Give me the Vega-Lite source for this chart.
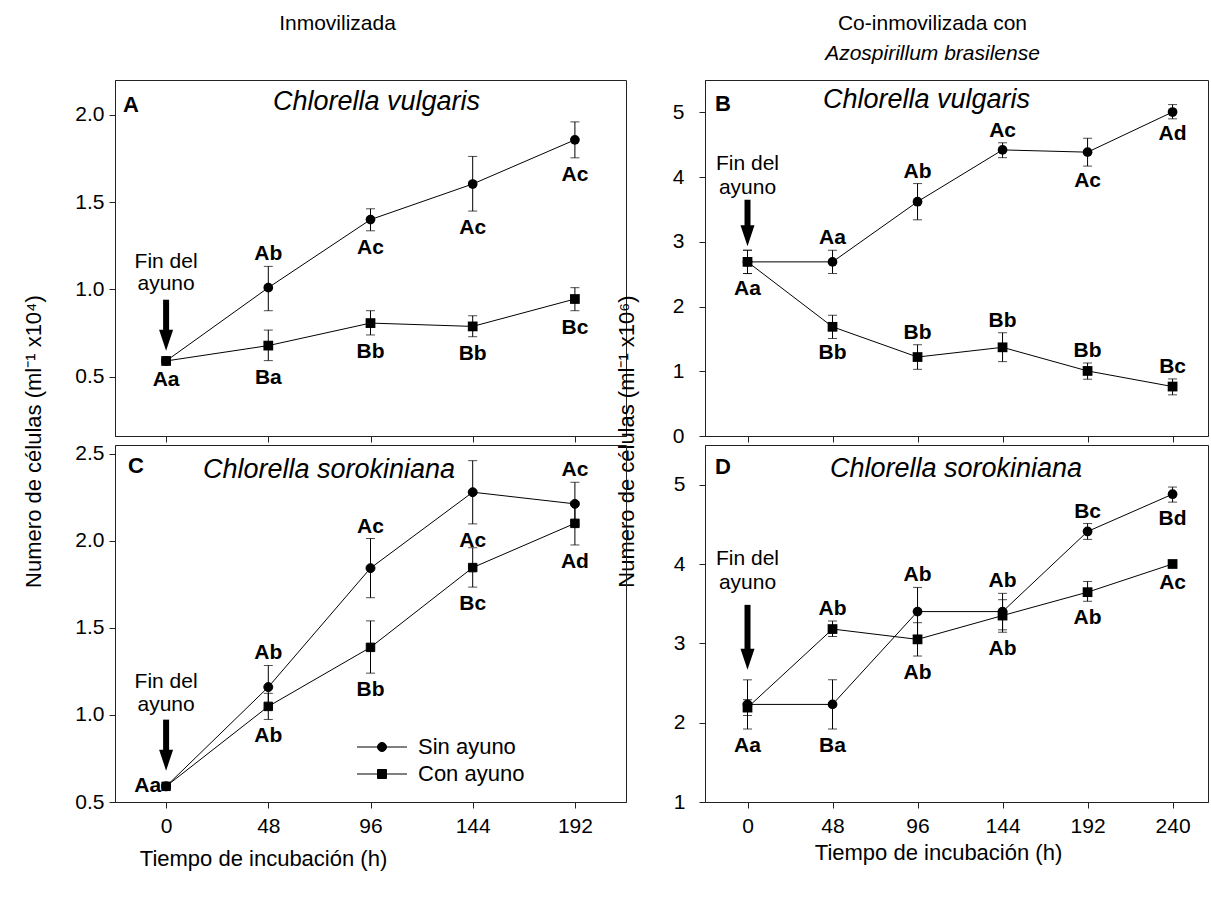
{
  "$schema": "https://vega.github.io/schema/vega-lite/v6.json",
  "background": "white",
  "padding": {"left": 21, "top": 12, "right": 0, "bottom": 5},
  "config": {
    "font": "Liberation Sans",
    "view": {"stroke": "#222", "strokeWidth": 1},
    "axis": {
      "grid": false, "domainColor": "#222", "tickColor": "#222",
      "labelColor": "black", "titleColor": "black",
      "labelFont": "Liberation Sans", "titleFont": "Liberation Sans",
      "labelFontSize": 21, "titleFontSize": 22, "titleFontWeight": "normal",
      "tickSize": 6, "labelPadding": 5, "labelFlush": false, "labelOverlap": false
    },
    "title": {"font": "Liberation Sans", "color": "black", "fontWeight": "normal", "subtitleFont": "Liberation Sans", "subtitleColor": "black"}
  },
  "datasets": {
    "obs": [
      {"panel": "A", "serie": "Sin ayuno", "t": 0, "v": 0.59, "lo": 0.58, "hi": 0.6, "lab": "Aa", "pos": "below"},
      {"panel": "A", "serie": "Sin ayuno", "t": 48, "v": 1.01, "lo": 0.878, "hi": 1.132, "lab": "Ab", "pos": "above"},
      {"panel": "A", "serie": "Sin ayuno", "t": 96, "v": 1.4, "lo": 1.336, "hi": 1.462, "lab": "Ac", "pos": "below"},
      {"panel": "A", "serie": "Sin ayuno", "t": 144, "v": 1.604, "lo": 1.449, "hi": 1.762, "lab": "Ac", "pos": "below"},
      {"panel": "A", "serie": "Sin ayuno", "t": 192, "v": 1.857, "lo": 1.754, "hi": 1.96, "lab": "Ac", "pos": "below"},
      {"panel": "A", "serie": "Con ayuno", "t": 0, "v": 0.59, "lo": 0.58, "hi": 0.6, "lab": "", "pos": ""},
      {"panel": "A", "serie": "Con ayuno", "t": 48, "v": 0.678, "lo": 0.592, "hi": 0.767, "lab": "Ba", "pos": "below"},
      {"panel": "A", "serie": "Con ayuno", "t": 96, "v": 0.807, "lo": 0.739, "hi": 0.878, "lab": "Bb", "pos": "below"},
      {"panel": "A", "serie": "Con ayuno", "t": 144, "v": 0.788, "lo": 0.729, "hi": 0.849, "lab": "Bb", "pos": "below"},
      {"panel": "A", "serie": "Con ayuno", "t": 192, "v": 0.945, "lo": 0.878, "hi": 1.01, "lab": "Bc", "pos": "below"},

      {"panel": "B", "serie": "Sin ayuno", "t": 0, "v": 2.69, "lo": 2.51, "hi": 2.87, "lab": "Aa", "pos": "below"},
      {"panel": "B", "serie": "Sin ayuno", "t": 48, "v": 2.69, "lo": 2.51, "hi": 2.87, "lab": "Aa", "pos": "above"},
      {"panel": "B", "serie": "Sin ayuno", "t": 96, "v": 3.62, "lo": 3.34, "hi": 3.9, "lab": "Ab", "pos": "above"},
      {"panel": "B", "serie": "Sin ayuno", "t": 144, "v": 4.42, "lo": 4.3, "hi": 4.53, "lab": "Ac", "pos": "above"},
      {"panel": "B", "serie": "Sin ayuno", "t": 192, "v": 4.385, "lo": 4.17, "hi": 4.6, "lab": "Ac", "pos": "below"},
      {"panel": "B", "serie": "Sin ayuno", "t": 240, "v": 5.005, "lo": 4.9, "hi": 5.12, "lab": "Ad", "pos": "below"},
      {"panel": "B", "serie": "Con ayuno", "t": 0, "v": 2.69, "lo": 2.51, "hi": 2.87, "lab": "", "pos": ""},
      {"panel": "B", "serie": "Con ayuno", "t": 48, "v": 1.687, "lo": 1.508, "hi": 1.866, "lab": "Bb", "pos": "below"},
      {"panel": "B", "serie": "Con ayuno", "t": 96, "v": 1.22, "lo": 1.03, "hi": 1.41, "lab": "Bb", "pos": "above"},
      {"panel": "B", "serie": "Con ayuno", "t": 144, "v": 1.37, "lo": 1.149, "hi": 1.595, "lab": "Bb", "pos": "above"},
      {"panel": "B", "serie": "Con ayuno", "t": 192, "v": 1.005, "lo": 0.877, "hi": 1.128, "lab": "Bb", "pos": "above"},
      {"panel": "B", "serie": "Con ayuno", "t": 240, "v": 0.764, "lo": 0.636, "hi": 0.882, "lab": "Bc", "pos": "above"},

      {"panel": "C", "serie": "Sin ayuno", "t": 0, "v": 0.59, "lo": 0.58, "hi": 0.6, "lab": "Aa", "pos": "left"},
      {"panel": "C", "serie": "Sin ayuno", "t": 48, "v": 1.16, "lo": 1.035, "hi": 1.284, "lab": "Ab", "pos": "above"},
      {"panel": "C", "serie": "Sin ayuno", "t": 96, "v": 1.843, "lo": 1.673, "hi": 2.013, "lab": "Ac", "pos": "above"},
      {"panel": "C", "serie": "Sin ayuno", "t": 144, "v": 2.279, "lo": 2.097, "hi": 2.46, "lab": "Ac", "pos": "below"},
      {"panel": "C", "serie": "Sin ayuno", "t": 192, "v": 2.212, "lo": 2.09, "hi": 2.336, "lab": "Ac", "pos": "above"},
      {"panel": "C", "serie": "Con ayuno", "t": 0, "v": 0.59, "lo": 0.58, "hi": 0.6, "lab": "", "pos": ""},
      {"panel": "C", "serie": "Con ayuno", "t": 48, "v": 1.049, "lo": 0.974, "hi": 1.124, "lab": "Ab", "pos": "below"},
      {"panel": "C", "serie": "Con ayuno", "t": 96, "v": 1.388, "lo": 1.24, "hi": 1.54, "lab": "Bb", "pos": "below"},
      {"panel": "C", "serie": "Con ayuno", "t": 144, "v": 1.846, "lo": 1.734, "hi": 1.96, "lab": "Bc", "pos": "below"},
      {"panel": "C", "serie": "Con ayuno", "t": 192, "v": 2.1, "lo": 1.976, "hi": 2.224, "lab": "Ad", "pos": "below"},

      {"panel": "D", "serie": "Sin ayuno", "t": 0, "v": 2.23, "lo": 1.92, "hi": 2.54, "lab": "Aa", "pos": "below"},
      {"panel": "D", "serie": "Sin ayuno", "t": 48, "v": 2.23, "lo": 1.92, "hi": 2.54, "lab": "Ba", "pos": "below"},
      {"panel": "D", "serie": "Sin ayuno", "t": 96, "v": 3.4, "lo": 3.1, "hi": 3.705, "lab": "Ab", "pos": "above"},
      {"panel": "D", "serie": "Sin ayuno", "t": 144, "v": 3.4, "lo": 3.17, "hi": 3.63, "lab": "Ab", "pos": "above"},
      {"panel": "D", "serie": "Sin ayuno", "t": 192, "v": 4.41, "lo": 4.31, "hi": 4.51, "lab": "Bc", "pos": "above"},
      {"panel": "D", "serie": "Sin ayuno", "t": 240, "v": 4.88, "lo": 4.78, "hi": 4.97, "lab": "Bd", "pos": "below"},
      {"panel": "D", "serie": "Con ayuno", "t": 0, "v": 2.19, "lo": 2.09, "hi": 2.29, "lab": "", "pos": ""},
      {"panel": "D", "serie": "Con ayuno", "t": 48, "v": 3.18, "lo": 3.085, "hi": 3.28, "lab": "Ab", "pos": "above"},
      {"panel": "D", "serie": "Con ayuno", "t": 96, "v": 3.05, "lo": 2.84, "hi": 3.26, "lab": "Ab", "pos": "below"},
      {"panel": "D", "serie": "Con ayuno", "t": 144, "v": 3.35, "lo": 3.14, "hi": 3.55, "lab": "Ab", "pos": "below"},
      {"panel": "D", "serie": "Con ayuno", "t": 192, "v": 3.645, "lo": 3.53, "hi": 3.78, "lab": "Ab", "pos": "below"},
      {"panel": "D", "serie": "Con ayuno", "t": 240, "v": 4.0, "lo": 3.98, "hi": 4.02, "lab": "Ac", "pos": "below"}
    ],
    "notes": [
      {"panel": "A", "t": 0, "top": 0.941, "tip": 0.649, "note": "Fin del\nayuno", "letter": "A", "species": "Chlorella vulgaris"},
      {"panel": "B", "t": 0, "top": 3.65, "tip": 2.93, "note": "Fin del\nayuno", "letter": "B", "species": "Chlorella vulgaris"},
      {"panel": "C", "t": 0, "top": 0.973, "tip": 0.68, "note": "Fin del\nayuno", "letter": "C", "species": "Chlorella sorokiniana"},
      {"panel": "D", "t": 0, "top": 3.485, "tip": 2.667, "note": "Fin del\nayuno", "letter": "D", "species": "Chlorella sorokiniana"}
    ]
  },
  "columns": 2,
  "spacing": {"row": 9, "column": 79},
  "bounds": "flush",
  "resolve": {
    "scale": {"shape": "independent", "color": "independent", "fill": "independent"},
    "legend": {"shape": "independent", "color": "independent", "fill": "independent"}
  },
  "concat": [
    {
      "width": 511, "height": 356,
      "title": {"text": "Inmovilizada", "fontSize": 21, "anchor": "middle", "dx": -33, "baseline": "alphabetic", "offset": 29},
      "encoding": {"x": {"field": "t", "type": "quantitative", "scale": {"domain": [-24, 216], "nice": false}, "axis": {"values": [0, 48, 96, 144, 192], "labels": false, "title": null}}},
      "layer": [
        {"data": {"name": "obs"}, "transform": [{"filter": "datum.panel === 'A'"}],
         "mark": {"type": "line", "color": "black", "strokeWidth": 1},
         "encoding": {"y": {"field": "v", "type": "quantitative", "scale": {"domain": [0.16, 2.2], "nice": false},
           "axis": {"values": [0.5, 1, 1.5, 2], "format": ".1f", "title": "Numero de células (ml⁻¹ x10⁴)", "titleX": -82, "titleY": 361, "titleAngle": 270, "titleAlign": "center", "titleBaseline": "middle"}},
           "detail": {"field": "serie"}}},
        {"data": {"name": "obs"}, "transform": [{"filter": "datum.panel === 'A'"}],
         "mark": {"type": "errorbar", "ticks": true, "size": 9, "thickness": 1, "color": "black"},
         "encoding": {"y": {"field": "lo", "type": "quantitative", "title": "Numero de células (ml⁻¹ x10⁴)"}, "y2": {"field": "hi"}}},
        {"data": {"name": "obs"}, "transform": [{"filter": "datum.panel === 'A'"}],
         "mark": {"type": "point", "filled": true, "size": 95, "opacity": 1, "color": "black"},
         "encoding": {"y": {"field": "v", "type": "quantitative"},
           "shape": {"field": "serie", "type": "nominal", "scale": {"domain": ["Sin ayuno", "Con ayuno"], "range": ["circle", "square"]}, "legend": null}}},
        {"data": {"name": "obs"}, "transform": [{"filter": "datum.panel === 'A' && datum.pos === 'above'"}],
         "mark": {"type": "text", "fontWeight": "bold", "fontSize": 21, "baseline": "alphabetic", "dy": -6},
         "encoding": {"y": {"field": "hi", "type": "quantitative"}, "text": {"field": "lab"}}},
        {"data": {"name": "obs"}, "transform": [{"filter": "datum.panel === 'A' && datum.pos === 'below'"}],
         "mark": {"type": "text", "fontWeight": "bold", "fontSize": 21, "baseline": "top", "dy": 6},
         "encoding": {"y": {"field": "lo", "type": "quantitative"}, "text": {"field": "lab"}}},
        {"data": {"name": "notes"}, "transform": [{"filter": "datum.panel === 'A'"}],
         "mark": {"type": "rule", "strokeWidth": 6, "color": "black", "y2Offset": -14},
         "encoding": {"y": {"field": "top", "type": "quantitative"}, "y2": {"field": "tip"}}},
        {"data": {"name": "notes"}, "transform": [{"filter": "datum.panel === 'A'"}],
         "mark": {"type": "point", "shape": "M-0.667,-2L0.667,-2L0,0Z", "size": 441, "filled": true, "opacity": 1, "color": "black", "strokeWidth": 0},
         "encoding": {"y": {"field": "tip", "type": "quantitative"}}},
        {"data": {"name": "notes"}, "transform": [{"filter": "datum.panel === 'A'"}],
         "mark": {"type": "text", "fontSize": 21, "baseline": "alphabetic", "dy": -32, "lineBreak": "\n", "lineHeight": 22},
         "encoding": {"y": {"field": "top", "type": "quantitative"}, "text": {"field": "note"}}},
        {"data": {"name": "notes"}, "transform": [{"filter": "datum.panel === 'A'"}],
         "mark": {"type": "text", "fontSize": 22, "fontWeight": "bold", "align": "left", "baseline": "alphabetic", "dx": 8, "dy": 32},
         "encoding": {"x": {"datum": -24}, "y": {"datum": 2.2}, "text": {"field": "letter"}}},
        {"data": {"name": "notes"}, "transform": [{"filter": "datum.panel === 'A'"}],
         "mark": {"type": "text", "fontSize": 27, "fontStyle": "italic", "align": "left", "baseline": "alphabetic", "dx": 158, "dy": 30},
         "encoding": {"x": {"datum": -24}, "y": {"datum": 2.2}, "text": {"field": "species"}}}
      ]
    },
    {
      "width": 503, "height": 356,
      "title": {"text": "Co-inmovilizada con", "subtitle": "Azospirillum brasilense", "subtitleFontStyle": "italic", "subtitleFontSize": 21, "fontSize": 21, "subtitlePadding": 9, "anchor": "middle", "dx": -24, "offset": 16},
      "encoding": {"x": {"field": "t", "type": "quantitative", "scale": {"domain": [-24, 260], "nice": false}, "axis": {"values": [0, 48, 96, 144, 192, 240], "labels": false, "title": null}}},
      "layer": [
        {"data": {"name": "obs"}, "transform": [{"filter": "datum.panel === 'B'"}],
         "mark": {"type": "line", "color": "black", "strokeWidth": 1},
         "encoding": {"y": {"field": "v", "type": "quantitative", "scale": {"domain": [0, 5.5], "nice": false},
           "axis": {"values": [0, 1, 2, 3, 4, 5], "format": "d", "labelPadding": 15, "title": "Numero de células (ml⁻¹ x10⁶)", "titleX": -79, "titleY": 361, "titleAngle": 270, "titleAlign": "center", "titleBaseline": "middle"}},
           "detail": {"field": "serie"}}},
        {"data": {"name": "obs"}, "transform": [{"filter": "datum.panel === 'B'"}],
         "mark": {"type": "errorbar", "ticks": true, "size": 9, "thickness": 1, "color": "black"},
         "encoding": {"y": {"field": "lo", "type": "quantitative", "title": "Numero de células (ml⁻¹ x10⁶)"}, "y2": {"field": "hi"}}},
        {"data": {"name": "obs"}, "transform": [{"filter": "datum.panel === 'B'"}],
         "mark": {"type": "point", "filled": true, "size": 95, "opacity": 1, "color": "black"},
         "encoding": {"y": {"field": "v", "type": "quantitative"},
           "shape": {"field": "serie", "type": "nominal", "scale": {"domain": ["Sin ayuno", "Con ayuno"], "range": ["circle", "square"]}, "legend": null}}},
        {"data": {"name": "obs"}, "transform": [{"filter": "datum.panel === 'B' && datum.pos === 'above'"}],
         "mark": {"type": "text", "fontWeight": "bold", "fontSize": 21, "baseline": "alphabetic", "dy": -6},
         "encoding": {"y": {"field": "hi", "type": "quantitative"}, "text": {"field": "lab"}}},
        {"data": {"name": "obs"}, "transform": [{"filter": "datum.panel === 'B' && datum.pos === 'below'"}],
         "mark": {"type": "text", "fontWeight": "bold", "fontSize": 21, "baseline": "top", "dy": 4},
         "encoding": {"y": {"field": "lo", "type": "quantitative"}, "text": {"field": "lab"}}},
        {"data": {"name": "notes"}, "transform": [{"filter": "datum.panel === 'B'"}],
         "mark": {"type": "rule", "strokeWidth": 6, "color": "black", "y2Offset": -14},
         "encoding": {"y": {"field": "top", "type": "quantitative"}, "y2": {"field": "tip"}}},
        {"data": {"name": "notes"}, "transform": [{"filter": "datum.panel === 'B'"}],
         "mark": {"type": "point", "shape": "M-0.667,-2L0.667,-2L0,0Z", "size": 441, "filled": true, "opacity": 1, "color": "black", "strokeWidth": 0},
         "encoding": {"y": {"field": "tip", "type": "quantitative"}}},
        {"data": {"name": "notes"}, "transform": [{"filter": "datum.panel === 'B'"}],
         "mark": {"type": "text", "fontSize": 21, "baseline": "alphabetic", "dy": -30, "lineBreak": "\n", "lineHeight": 24},
         "encoding": {"y": {"field": "top", "type": "quantitative"}, "text": {"field": "note"}}},
        {"data": {"name": "notes"}, "transform": [{"filter": "datum.panel === 'B'"}],
         "mark": {"type": "text", "fontSize": 22, "fontWeight": "bold", "align": "left", "baseline": "alphabetic", "dx": 10, "dy": 31},
         "encoding": {"x": {"datum": -24}, "y": {"datum": 5.5}, "text": {"field": "letter"}}},
        {"data": {"name": "notes"}, "transform": [{"filter": "datum.panel === 'B'"}],
         "mark": {"type": "text", "fontSize": 27, "fontStyle": "italic", "align": "left", "baseline": "alphabetic", "dx": 118, "dy": 28},
         "encoding": {"x": {"datum": -24}, "y": {"datum": 5.5}, "text": {"field": "species"}}}
      ]
    },
    {
      "width": 511, "height": 357,
      "encoding": {"x": {"field": "t", "type": "quantitative", "scale": {"domain": [-24, 216], "nice": false}, "axis": {"values": [0, 48, 96, 144, 192], "labelPadding": 7, "title": "Tiempo de incubación (h)", "titlePadding": 12, "titleX": 148}}},
      "layer": [
        {"data": {"name": "obs"}, "transform": [{"filter": "datum.panel === 'C'"}],
         "mark": {"type": "line", "color": "black", "strokeWidth": 1},
         "encoding": {"y": {"field": "v", "type": "quantitative", "scale": {"domain": [0.5, 2.55], "nice": false},
           "axis": {"values": [0.5, 1, 1.5, 2, 2.5], "format": ".1f", "title": null}},
           "detail": {"field": "serie"}}},
        {"data": {"name": "obs"}, "transform": [{"filter": "datum.panel === 'C'"}],
         "mark": {"type": "errorbar", "ticks": true, "size": 9, "thickness": 1, "color": "black"},
         "encoding": {"y": {"field": "lo", "type": "quantitative", "title": null}, "y2": {"field": "hi"}}},
        {"data": {"name": "obs"}, "transform": [{"filter": "datum.panel === 'C' && datum.serie === 'Sin ayuno'"}],
         "mark": {"type": "point", "filled": true, "size": 80, "opacity": 1, "stroke": "black", "strokeWidth": 1},
         "encoding": {"y": {"field": "v", "type": "quantitative"},
           "color": {"field": "serie", "type": "nominal", "scale": {"domain": ["Sin ayuno"], "range": ["black"]},
             "legend": {"title": null, "orient": "none", "legendX": 256, "legendY": 291,
               "symbolType": "M-5,0L5,0M0.9,0A0.9,0.9,0,1,1,-0.9,0A0.9,0.9,0,1,1,0.9,0Z", "symbolSize": 100,
               "symbolFillColor": "black", "symbolStrokeColor": "black", "symbolStrokeWidth": 1,
               "labelOffset": 25, "labelFontSize": 22, "labelFont": "Liberation Sans", "labelColor": "black"}}}},
        {"data": {"name": "obs"}, "transform": [{"filter": "datum.panel === 'C' && datum.serie === 'Con ayuno'"}],
         "mark": {"type": "square", "filled": true, "size": 72, "opacity": 1, "stroke": "black", "strokeWidth": 1},
         "encoding": {"y": {"field": "v", "type": "quantitative"},
           "fill": {"field": "serie", "type": "nominal", "scale": {"domain": ["Con ayuno"], "range": ["black"]},
             "legend": {"title": null, "orient": "none", "legendX": 256, "legendY": 318,
               "symbolType": "M-5,0L5,0M-0.9,-0.9L0.9,-0.9L0.9,0.9L-0.9,0.9Z", "symbolSize": 100,
               "symbolFillColor": "black", "symbolStrokeColor": "black", "symbolStrokeWidth": 1,
               "labelOffset": 25, "labelFontSize": 22, "labelFont": "Liberation Sans", "labelColor": "black"}}}},
        {"data": {"name": "obs"}, "transform": [{"filter": "datum.panel === 'C' && datum.pos === 'above'"}],
         "mark": {"type": "text", "fontWeight": "bold", "fontSize": 21, "baseline": "alphabetic", "dy": -6},
         "encoding": {"y": {"field": "hi", "type": "quantitative"}, "text": {"field": "lab"}}},
        {"data": {"name": "obs"}, "transform": [{"filter": "datum.panel === 'C' && datum.pos === 'below'"}],
         "mark": {"type": "text", "fontWeight": "bold", "fontSize": 21, "baseline": "top", "dy": 6},
         "encoding": {"y": {"field": "lo", "type": "quantitative"}, "text": {"field": "lab"}}},
        {"data": {"name": "obs"}, "transform": [{"filter": "datum.panel === 'C' && datum.pos === 'left'"}],
         "mark": {"type": "text", "fontWeight": "bold", "fontSize": 21, "align": "right", "baseline": "middle", "dx": -5},
         "encoding": {"y": {"field": "v", "type": "quantitative"}, "text": {"field": "lab"}}},
        {"data": {"name": "notes"}, "transform": [{"filter": "datum.panel === 'C'"}],
         "mark": {"type": "rule", "strokeWidth": 6, "color": "black", "y2Offset": -14},
         "encoding": {"y": {"field": "top", "type": "quantitative"}, "y2": {"field": "tip"}}},
        {"data": {"name": "notes"}, "transform": [{"filter": "datum.panel === 'C'"}],
         "mark": {"type": "point", "shape": "M-0.667,-2L0.667,-2L0,0Z", "size": 441, "filled": true, "opacity": 1, "color": "black", "strokeWidth": 0},
         "encoding": {"y": {"field": "tip", "type": "quantitative"}}},
        {"data": {"name": "notes"}, "transform": [{"filter": "datum.panel === 'C'"}],
         "mark": {"type": "text", "fontSize": 21, "baseline": "alphabetic", "dy": -32, "lineBreak": "\n", "lineHeight": 23},
         "encoding": {"y": {"field": "top", "type": "quantitative"}, "text": {"field": "note"}}},
        {"data": {"name": "notes"}, "transform": [{"filter": "datum.panel === 'C'"}],
         "mark": {"type": "text", "fontSize": 22, "fontWeight": "bold", "align": "left", "baseline": "alphabetic", "dx": 13, "dy": 28},
         "encoding": {"x": {"datum": -24}, "y": {"datum": 2.55}, "text": {"field": "letter"}}},
        {"data": {"name": "notes"}, "transform": [{"filter": "datum.panel === 'C'"}],
         "mark": {"type": "text", "fontSize": 27, "fontStyle": "italic", "align": "left", "baseline": "alphabetic", "dx": 88, "dy": 33},
         "encoding": {"x": {"datum": -24}, "y": {"datum": 2.55}, "text": {"field": "species"}}}
      ]
    },
    {
      "width": 503, "height": 357,
      "encoding": {"x": {"field": "t", "type": "quantitative", "scale": {"domain": [-24, 260], "nice": false}, "axis": {"values": [0, 48, 96, 144, 192, 240], "labelPadding": 7, "title": "Tiempo de incubación (h)", "titlePadding": 6, "titleX": 233}}},
      "layer": [
        {"data": {"name": "obs"}, "transform": [{"filter": "datum.panel === 'D'"}],
         "mark": {"type": "line", "color": "black", "strokeWidth": 1},
         "encoding": {"y": {"field": "v", "type": "quantitative", "scale": {"domain": [1, 5.5], "nice": false},
           "axis": {"values": [1, 2, 3, 4, 5], "format": "d", "labelPadding": 14, "title": null}},
           "detail": {"field": "serie"}}},
        {"data": {"name": "obs"}, "transform": [{"filter": "datum.panel === 'D'"}],
         "mark": {"type": "errorbar", "ticks": true, "size": 9, "thickness": 1, "color": "black"},
         "encoding": {"y": {"field": "lo", "type": "quantitative", "title": null}, "y2": {"field": "hi"}}},
        {"data": {"name": "obs"}, "transform": [{"filter": "datum.panel === 'D'"}],
         "mark": {"type": "point", "filled": true, "size": 95, "opacity": 1, "color": "black"},
         "encoding": {"y": {"field": "v", "type": "quantitative"},
           "shape": {"field": "serie", "type": "nominal", "scale": {"domain": ["Sin ayuno", "Con ayuno"], "range": ["circle", "square"]}, "legend": null}}},
        {"data": {"name": "obs"}, "transform": [{"filter": "datum.panel === 'D' && datum.pos === 'above'"}],
         "mark": {"type": "text", "fontWeight": "bold", "fontSize": 21, "baseline": "alphabetic", "dy": -6},
         "encoding": {"y": {"field": "hi", "type": "quantitative"}, "text": {"field": "lab"}}},
        {"data": {"name": "obs"}, "transform": [{"filter": "datum.panel === 'D' && datum.pos === 'below'"}],
         "mark": {"type": "text", "fontWeight": "bold", "fontSize": 21, "baseline": "top", "dy": 6},
         "encoding": {"y": {"field": "lo", "type": "quantitative"}, "text": {"field": "lab"}}},
        {"data": {"name": "notes"}, "transform": [{"filter": "datum.panel === 'D'"}],
         "mark": {"type": "rule", "strokeWidth": 6, "color": "black", "y2Offset": -14},
         "encoding": {"y": {"field": "top", "type": "quantitative"}, "y2": {"field": "tip"}}},
        {"data": {"name": "notes"}, "transform": [{"filter": "datum.panel === 'D'"}],
         "mark": {"type": "point", "shape": "M-0.667,-2L0.667,-2L0,0Z", "size": 441, "filled": true, "opacity": 1, "color": "black", "strokeWidth": 0},
         "encoding": {"y": {"field": "tip", "type": "quantitative"}}},
        {"data": {"name": "notes"}, "transform": [{"filter": "datum.panel === 'D'"}],
         "mark": {"type": "text", "fontSize": 21, "baseline": "alphabetic", "dy": -40, "lineBreak": "\n", "lineHeight": 24},
         "encoding": {"y": {"field": "top", "type": "quantitative"}, "text": {"field": "note"}}},
        {"data": {"name": "notes"}, "transform": [{"filter": "datum.panel === 'D'"}],
         "mark": {"type": "text", "fontSize": 22, "fontWeight": "bold", "align": "left", "baseline": "alphabetic", "dx": 10, "dy": 29},
         "encoding": {"x": {"datum": -24}, "y": {"datum": 5.5}, "text": {"field": "letter"}}},
        {"data": {"name": "notes"}, "transform": [{"filter": "datum.panel === 'D'"}],
         "mark": {"type": "text", "fontSize": 27, "fontStyle": "italic", "align": "left", "baseline": "alphabetic", "dx": 125, "dy": 32},
         "encoding": {"x": {"datum": -24}, "y": {"datum": 5.5}, "text": {"field": "species"}}}
      ]
    }
  ]
}
